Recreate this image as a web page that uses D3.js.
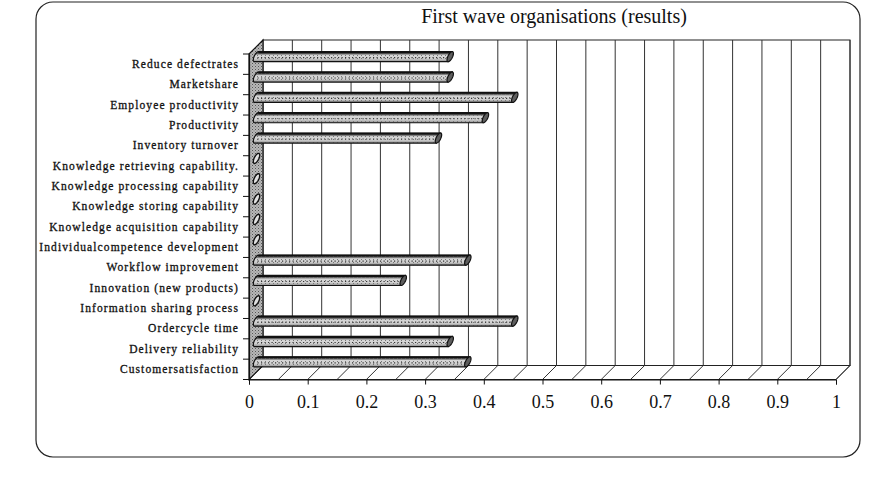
<!DOCTYPE html>
<html>
<head>
<meta charset="utf-8">
<script src="https://cdn.jsdelivr.net/npm/d3@7"></script>
<style>
  body { margin: 0; background: #fff; }
  svg { display: block; }
</style>
</head>
<body>
<div id="chart"></div>
<script>
const categories = [
  "Reduce defectrates",
  "Marketshare",
  "Employee productivity",
  "Productivity",
  "Inventory turnover",
  "Knowledge retrieving capability.",
  "Knowledge processing capability",
  "Knowledge storing capability",
  "Knowledge acquisition capability",
  "Individualcompetence development",
  "Workflow improvement",
  "Innovation (new products)",
  "Information sharing process",
  "Ordercycle time",
  "Delivery reliability",
  "Customersatisfaction"
]
const values = [0.33, 0.33, 0.44, 0.39, 0.31, 0, 0, 0, 0, 0, 0.36, 0.25, 0, 0.44, 0.33, 0.36]
const tickValues = [0, 0.1, 0.2, 0.3, 0.4, 0.5, 0.6, 0.7, 0.8, 0.9, 1]
const tickLabels = ["0", "0.1", "0.2", "0.3", "0.4", "0.5", "0.6", "0.7", "0.8", "0.9", "1"]
const title = "First wave organisations (results)"

const W = 888, H = 490
const depth = 14          // oblique offset of the back plane
const front = {left: 249, right: 836, top: 54, bottom: 379.5}

const svg = d3.select("#chart").append("svg")
  .attr("width", W).attr("height", H)
  .style("font-family", "'Liberation Serif', 'Times New Roman', serif")

const defs = svg.append("defs")
const grad = defs.append("linearGradient").attr("id", "barFill")
  .attr("x1", 0).attr("y1", 0).attr("x2", 0).attr("y2", 1)
grad.selectAll("stop")
  .data([[0, "#222"], [0.22, "#6a6a6a"], [0.36, "#d6d6d6"], [0.7, "#d0d0d0"], [1, "#8a8a8a"]])
  .enter().append("stop")
  .attr("offset", d => d[0]).attr("stop-color", d => d[1])

const stip = defs.append("pattern").attr("id", "stipple")
  .attr("patternUnits", "userSpaceOnUse").attr("width", 3).attr("height", 3)
stip.append("rect").attr("width", 3).attr("height", 3).attr("fill", "#b8b8b8")
stip.append("rect").attr("x", 0).attr("y", 0).attr("width", 1).attr("height", 1).attr("fill", "#555")
stip.append("rect").attr("x", 1.5).attr("y", 1.5).attr("width", 1).attr("height", 1).attr("fill", "#7a7a7a")

const dots = defs.append("pattern").attr("id", "dots")
  .attr("patternUnits", "userSpaceOnUse").attr("width", 4).attr("height", 3)
dots.append("rect").attr("x", 1).attr("y", 1).attr("width", 1).attr("height", 1).attr("fill", "#777")

// scales
const x = d3.scaleLinear().domain([0, 1]).range([front.left, front.right])
const y = d3.scaleBand().domain(categories).range([front.top, front.bottom]).paddingInner(0)

// outer frame
svg.append("rect")
  .attr("x", 36).attr("y", 2).attr("width", 824).attr("height", 455)
  .attr("rx", 17).attr("ry", 17)
  .attr("fill", "none").attr("stroke", "#222").attr("stroke-width", 1.2)

svg.append("text")
  .attr("x", 554).attr("y", 23)
  .attr("text-anchor", "middle")
  .attr("font-size", 20)
  .attr("fill", "#111")
  .text(title)

const plot = svg.append("g")

// back wall with gridlines every 0.05
plot.append("rect")
  .attr("x", x(0) + depth).attr("y", front.top - depth)
  .attr("width", x(1) - x(0)).attr("height", front.bottom - front.top)
  .attr("fill", "#fff").attr("stroke", "#222").attr("stroke-width", 1)

const grid = x.ticks(20).filter(v => v > 0)
plot.selectAll(".grid").data(grid).enter().append("line")
  .attr("x1", d => x(d) + depth).attr("x2", d => x(d) + depth)
  .attr("y1", front.top - depth).attr("y2", front.bottom - depth)
  .attr("stroke", "#333").attr("stroke-width", 1)

// floor
plot.append("path")
  .attr("d", `M${x(0)},${front.bottom} L${x(0) + depth},${front.bottom - depth} L${x(1) + depth},${front.bottom - depth} L${x(1)},${front.bottom} Z`)
  .attr("fill", "#fff").attr("stroke", "#222").attr("stroke-width", 1)
plot.selectAll(".diag").data(grid).enter().append("line")
  .attr("x1", d => x(d)).attr("y1", front.bottom)
  .attr("x2", d => x(d) + depth).attr("y2", front.bottom - depth)
  .attr("stroke", "#333").attr("stroke-width", 1)

// left side wall
plot.append("path")
  .attr("d", `M${x(0)},${front.top} L${x(0) + depth},${front.top - depth} L${x(0) + depth},${front.bottom - depth} L${x(0)},${front.bottom} Z`)
  .attr("fill", "url(#stipple)").attr("stroke", "#111").attr("stroke-width", 1.2)

// cylinder bars
const d = 7.5            // depth of the bar axis
const r = 3.9, s = 3.2   // vertical radius, oblique depth radius
const R = Math.sqrt(r * r + s * s)
const t = s * s / R
const phi = Math.atan2(s, r)
const ell = (cx, cy, a0, a1, n) => d3.range(n + 1).map(i => {
  const th = a0 + (a1 - a0) * i / n
  return [cx + s * Math.sin(th), cy + r * Math.cos(th) - s * Math.sin(th)]
})
const line = d3.line()

const bars = plot.selectAll(".bar").data(categories.map((c, i) => ({c, v: values[i]})))
  .enter().append("g")

bars.each(function(b) {
  const g = d3.select(this)
  const cy = y(b.c) + y.bandwidth() / 2 - d
  const c0 = x(0) + d
  const cv = x(b.v) + d
  if (b.v > 0) {
    const pts = [[c0 + t, cy - R], [cv + t, cy - R], [cv - t, cy + R], [c0 - t, cy + R]]
      .concat(ell(c0, cy, -phi, -Math.PI - phi, 24))
    const body = line(pts) + "Z"
    g.append("path").attr("d", body).attr("fill", "url(#barFill)")
    g.append("path").attr("d", body).attr("fill", "url(#dots)")
      .attr("stroke", "#111").attr("stroke-width", 1.2)
    g.append("line")
      .attr("x1", c0 + 1).attr("x2", cv - 2)
      .attr("y1", cy + 1).attr("y2", cy + 1)
      .attr("stroke", "#333").attr("stroke-width", 1.1)
      .attr("stroke-dasharray", "1.2 2.3")
    g.append("line")
      .attr("x1", c0 + t).attr("x2", cv + t)
      .attr("y1", cy - R + 0.6).attr("y2", cy - R + 0.6)
      .attr("stroke", "#111").attr("stroke-width", 1.8)
    g.append("path").attr("d", line(ell(cv, cy, 0, 2 * Math.PI, 36)) + "Z")
      .attr("fill", "#5e5e5e").attr("stroke", "#111").attr("stroke-width", 1.2)
  } else {
    g.append("path").attr("d", line(ell(c0, cy, 0, 2 * Math.PI, 36)) + "Z")
      .attr("fill", "#e0e0e0").attr("stroke", "#111").attr("stroke-width", 1.4)
  }
})

// value axis on the front floor edge
const xAxis = svg.append("g")
  .attr("transform", `translate(0,${front.bottom})`)
  .call(d3.axisBottom(x).tickValues(tickValues).tickFormat((v, i) => tickLabels[i])
    .tickSize(5).tickPadding(11))
xAxis.select(".domain").attr("stroke", "#111")
xAxis.selectAll(".tick line").attr("stroke", "#111")
xAxis.selectAll("text").attr("font-size", 18).attr("fill", "#111")
  .attr("font-family", "'Liberation Serif', 'Times New Roman', serif")

// category axis
const yAxis = svg.append("g")
  .attr("transform", `translate(${front.left},0)`)
  .call(d3.axisLeft(y).tickSize(0).tickPadding(10))
yAxis.select(".domain").attr("stroke", "#111").attr("stroke-width", 1.2)
yAxis.selectAll("text").attr("font-size", 11.5).attr("fill", "#111")
  .attr("letter-spacing", "1.1px")
  .attr("stroke", "#111").attr("stroke-width", 0.3)
  .attr("font-family", "'Liberation Serif', 'Times New Roman', serif")

const bounds = categories.map(c => y(c)).concat([front.bottom])
yAxis.selectAll(".btick").data(bounds).enter().append("line")
  .attr("x1", -6).attr("x2", 0)
  .attr("y1", v => v).attr("y2", v => v)
  .attr("stroke", "#111")
</script>
</body>
</html>
